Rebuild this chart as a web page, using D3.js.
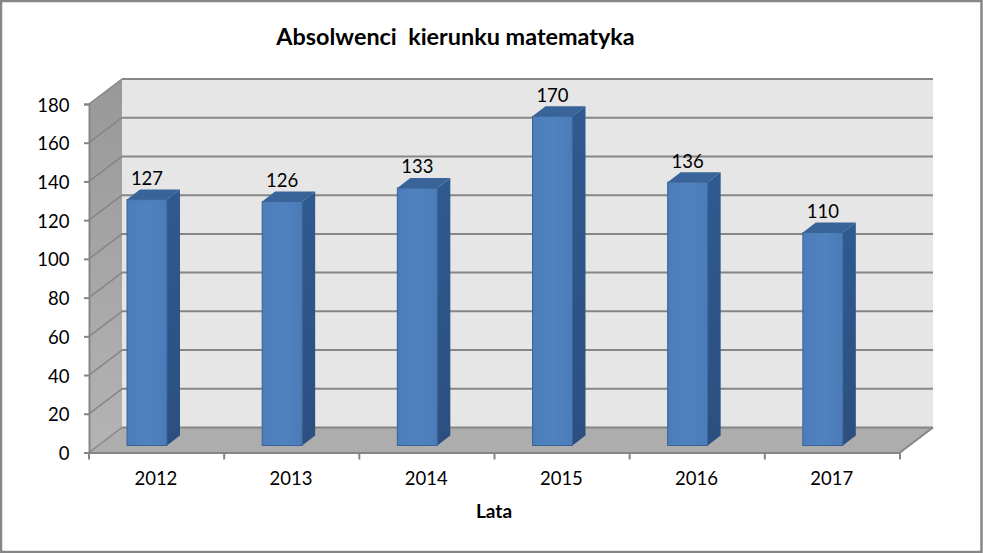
<!DOCTYPE html>
<html><head><meta charset="utf-8">
<script src="https://cdn.jsdelivr.net/npm/d3@7/dist/d3.min.js"></script>
<style>html,body{margin:0;padding:0;background:#fff}svg{display:block}text{font-family:Lato,"Open Sans",sans-serif;fill:#000}</style>
</head><body><svg id="c" width="983" height="553"></svg>
<script>
const categories=["2012","2013","2014","2015","2016","2017"];
const values=[127,126,133,170,136,110];
const yTicks=[0,20,40,60,80,100,120,140,160,180];
const titleText="Absolwenci  kierunku matematyka";
const xTitle="Lata";

const svg=d3.select("#c");
const W=983,H=553;
const x=d3.scaleBand().domain(categories).range([89,900]);
const y=d3.scaleLinear().domain([0,180]).range([452.5,104]);
const dx=33,dy=-25;          // chart depth
const grey="#868686";

const defs=svg.append("defs");
const lg=(id,stops,x2,y2)=>{const g=defs.append("linearGradient").attr("id",id).attr("x1",0).attr("y1",0).attr("x2",x2).attr("y2",y2);
 stops.forEach(s=>g.append("stop").attr("offset",s[0]).attr("stop-color",s[1]));};
lg("front",[[0,"#4c7dba"],[0.5,"#5082c0"],[1,"#4b7cb9"]],1,0);
lg("side",[[0,"#2f5a90"],[1,"#2c4f80"]],0,1);
lg("leftw",[[0,"#989898"],[1,"#b4b4b4"]],0,1);

svg.append("rect").attr("x",1).attr("y",1).attr("width",W-2.5).attr("height",H-2).attr("fill","#fff").attr("stroke",grey).attr("stroke-width",2.5);

const x0=x.range()[0],x1=x.range()[1],y0=y(0),yT=y(180);
const poly=(pts)=>d3.line()(pts)+"Z";
// back wall
svg.append("path").attr("d",poly([[x0+dx,yT+dy],[x1+dx,yT+dy],[x1+dx,y0+dy],[x0+dx,y0+dy]])).attr("fill","#e6e6e6");
// left wall
svg.append("path").attr("d",poly([[x0,yT],[x0+dx,yT+dy],[x0+dx,y0+dy],[x0,y0]])).attr("fill","url(#leftw)");
// floor
svg.append("path").attr("d",poly([[x0,y0],[x0+dx,y0+dy],[x1+dx,y0+dy],[x1,y0]])).attr("fill","#adadad");
// gridlines, back and side
yTicks.forEach(t=>{
 svg.append("line").attr("x1",x0+dx).attr("x2",x1+dx).attr("y1",y(t)+dy).attr("y2",y(t)+dy).attr("stroke",grey).attr("stroke-width",2);
 svg.append("line").attr("x1",x0).attr("x2",x0+dx).attr("y1",y(t)).attr("y2",y(t)+dy).attr("stroke",grey).attr("stroke-width",1.5);
});
svg.append("line").attr("x1",x1).attr("x2",x1+dx).attr("y1",y0).attr("y2",y0+dy).attr("stroke",grey).attr("stroke-width",2);

// axes
const gy=svg.append("g").attr("transform",`translate(${x0},0)`).call(d3.axisLeft(y).tickValues(yTicks).tickSize(5).tickPadding(14.5));
const gx=svg.append("g").attr("transform",`translate(0,${y0})`).call(d3.axisBottom(x).tickSize(0).tickPadding(19));
[gy,gx].forEach(g=>{g.selectAll("path.domain").attr("stroke",grey).attr("stroke-width",2);g.selectAll("line").attr("stroke",grey).attr("stroke-width",2);g.selectAll("text").attr("font-size",18.5).style("font-family","Lato,sans-serif");});
gx.selectAll("text").attr("dx",-0.7);
gy.selectAll("text").attr("dy","0.38em");
// category boundaries as tick marks
const bound=categories.map(c=>x(c)).concat([x1]);
gx.selectAll("line.b").data(bound).join("line").attr("class","b").attr("x1",d=>d).attr("x2",d=>d).attr("y1",0).attr("y2",7).attr("stroke",grey).attr("stroke-width",2);

// bars
const bw=40,bdx=13,bdy=-10,baseLift=7,off=38;
const g=svg.append("g").selectAll("g").data(categories.map((c,i)=>({c,v:values[i]}))).join("g");
const L=d=>x(d.c)+off, R=d=>L(d)+bw, B=()=>y0-baseLift, T=d=>y(d.v)-baseLift;
g.append("path").attr("d",d=>poly([[R(d),T(d)],[R(d)+bdx,T(d)+bdy],[R(d)+bdx,B()+bdy],[R(d),B()]])).attr("fill","url(#side)");
g.append("path").attr("d",d=>poly([[L(d),T(d)],[L(d)+bdx,T(d)+bdy],[R(d)+bdx,T(d)+bdy],[R(d),T(d)]])).attr("fill","#386499");
g.append("rect").attr("x",L).attr("y",T).attr("width",bw).attr("height",d=>B()-T(d)).attr("fill","url(#front)").attr("stroke","#3a6396").attr("stroke-width",1);
g.append("text").attr("x",d=>L(d)+20).attr("y",d=>T(d)-14.5).attr("text-anchor","middle").attr("font-size",18.5).text(d=>d.v);

svg.append("text").attr("x",455.5).attr("y",45).attr("text-anchor","middle").attr("font-size",23.4).attr("font-weight",700).style("white-space","pre").text(titleText);
svg.append("text").attr("x",494).attr("y",518).attr("text-anchor","middle").attr("font-size",19).attr("font-weight",700).text(xTitle);
</script></body></html>
